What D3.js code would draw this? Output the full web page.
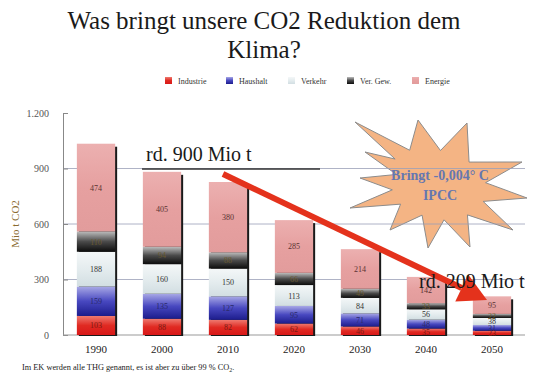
<!DOCTYPE html>
<html><head><meta charset="utf-8">
<script src="https://cdn.jsdelivr.net/npm/d3@7"></script>
<style>body{margin:0;background:#fff}svg{display:block}svg text{font-family:"Liberation Serif","Times New Roman",Times,"DejaVu Serif",serif}</style>
</head><body>
<svg id="c" width="540" height="378"></svg>
<script>
const years = ["1990","2000","2010","2020","2030","2040","2050"];
const seriesNames = ["Industrie","Haushalt","Verkehr","Ver. Gew.","Energie"];
const industrie = [103, 88, 82, 62, 46, 35, 23];
const haushalt  = [159, 135, 127, 95, 71, 48, 31];
const verkehr   = [188, 160, 150, 113, 84, 56, 38];
const verGew    = [110, 94, 88, 66, 49, 33, 22];
const energie   = [474, 405, 380, 285, 214, 142, 95];
const yTicks = [0, 300, 600, 900, 1200];
const yTickLabels = ["0","300","600","900","1.200"];

const seriesValues = [industrie, haushalt, verkehr, verGew, energie];
const rows = years.map((y,i)=>{const r={year:y}; seriesNames.forEach((s,j)=>r[s]=seriesValues[j][i]); return r;});

const svg = d3.select("#c");
const serif = '"Liberation Serif","Times New Roman",Times,"DejaVu Serif",serif';
const T = sel => sel.style("font-family", serif);

const x = d3.scaleBand().domain(years).range([63,525]).paddingInner(0.42).paddingOuter(0.21);
const y = d3.scaleLinear().domain([0,1200]).range([335,113]);

const grads = {
  "Industrie": ["#ee7a70","#e02a22","#d81818"],
  "Haushalt": ["#a8a8e6","#4848c0","#1c1c8c"],
  "Verkehr": ["#f4f7f8","#e4ecee","#d2dee2"],
  "Ver. Gew.": ["#bdbdbd","#4a4a4a","#0c0c0c"],
  "Energie": ["#ecb0b0","#e6a0a0","#e29c9c"]
};
const labelColor = {"Industrie":"#7a1a14","Haushalt":"#2a2a6a","Verkehr":"#333","Ver. Gew.":"#6b5a30","Energie":"#5a3232"};
const defs = svg.append("defs");
seriesNames.forEach((s,i)=>{
  const g = defs.append("linearGradient").attr("id","g"+i).attr("x1",0).attr("y1",0).attr("x2",0).attr("y2",1);
  grads[s].forEach((c,k)=>g.append("stop").attr("offset",(k/2*100)+"%").attr("stop-color",c));
});
const colorOf = s => "url(#g"+seriesNames.indexOf(s)+")";

// title
svg.append("text").attr("x",264).attr("y",29).attr("text-anchor","middle")
  .attr("font-size",25).attr("fill","#1a1a1a").call(T)
  .text("Was bringt unsere CO2 Reduktion dem");
svg.append("text").attr("x",264).attr("y",58).attr("text-anchor","middle")
  .attr("font-size",25).attr("fill","#1a1a1a").call(T)
  .text("Klima?");

// legend
const legX = [165,226,288,347,412];
const leg = svg.append("g");
seriesNames.forEach((s,i)=>{
  leg.append("rect").attr("x",legX[i]).attr("y",77).attr("width",7).attr("height",7).attr("fill",colorOf(s));
  leg.append("text").attr("x",legX[i]+13).attr("y",83.5).attr("font-size",8).call(T)
    .attr("fill","#333").text(s);
});

// star burst (behind gridlines)
const cx=438, cy=186;
const outer=[[-83,-64],[-20,-66],[29,-63],[84,-24],[89,12],[75,44],[32,61],[-10,62],[-48,44],[-88,22],[-78,-8],[-73,-34]];
const pts=[];
outer.forEach((p,i)=>{
  pts.push([cx+p[0],cy+p[1]]);
  const q=outer[(i+1)%outer.length];
  const ax=(p[0]+q[0])/2, ay=(p[1]+q[1])/2;
  pts.push([cx+ax*0.55,cy+ay*0.55]);
});
svg.append("polygon").attr("points",pts.map(p=>p.join(",")).join(" "))
  .attr("fill","#f4b484").attr("stroke","#8c8c8c").attr("stroke-width",1);

// gridlines
svg.append("g").selectAll("line").data(yTicks.filter(t=>t>0 && t<1200)).join("line")
  .attr("x1",63).attr("x2",525).attr("y1",d=>y(d)).attr("y2",d=>y(d))
  .attr("stroke","#9aa0b8").attr("stroke-width",0.8);
// axis
const yAxis = d3.axisLeft(y).tickValues(yTicks).tickFormat((d,i)=>yTickLabels[i]).tickSize(-5).tickPadding(14);
const ga = svg.append("g").attr("transform","translate(63,0)").call(yAxis);
ga.select(".domain").attr("stroke","#888");
ga.selectAll(".tick line").attr("stroke","#888");
ga.selectAll(".tick text").call(T).attr("font-size",10).attr("fill","#555");
svg.append("line").attr("x1",63).attr("x2",525).attr("y1",y(0)).attr("y2",y(0)).attr("stroke","#999").attr("stroke-width",1);

svg.append("text").attr("transform","translate(19,"+y(600)+") rotate(-90)").attr("text-anchor","middle")
  .call(T).attr("font-size",11).attr("fill","#8a6a30").text("Mio t CO2");

// star text
svg.append("text").attr("x",cx+2).attr("y",180).attr("text-anchor","middle").call(T)
  .attr("font-weight","bold").attr("font-size",14).attr("fill","#6677b0").text("Bringt -0,004° C");
svg.append("text").attr("x",cx+2).attr("y",200).attr("text-anchor","middle").call(T)
  .attr("font-weight","bold").attr("font-size",14).attr("fill","#6677b0").text("IPCC");

// x labels
const xAxis = d3.axisBottom(x).tickSize(0).tickPadding(10);
const gx = svg.append("g").attr("transform","translate(0,"+y(0)+")").call(xAxis);
gx.select(".domain").remove();
gx.selectAll(".tick text").call(T).attr("font-size",11).attr("fill","#222");

// bars
const stack = d3.stack().keys(seriesNames)(rows);
const totals = rows.map(r=>d3.sum(seriesNames,s=>r[s]));
svg.append("g").selectAll("rect").data(rows).join("rect")
  .attr("x",d=>x(d.year)+2).attr("y",(d,i)=>y(totals[i])+3)
  .attr("width",x.bandwidth()).attr("height",(d,i)=>y(0)-y(totals[i])-2).attr("fill","#1a1a1a");
const layers = svg.append("g").selectAll("g").data(stack).join("g").attr("fill",d=>colorOf(d.key));
layers.selectAll("rect").data(d=>d).join("rect")
  .attr("x",d=>x(d.data.year)).attr("y",d=>y(d[1])).attr("width",x.bandwidth())
  .attr("height",d=>y(d[0])-y(d[1]));
stack.forEach(layer=>{
  svg.append("g").selectAll("text").data(layer).join("text")
    .attr("x",d=>x(d.data.year)+x.bandwidth()/2).attr("y",d=>(y(d[0])+y(d[1]))/2+3)
    .attr("text-anchor","middle").call(T).attr("font-size",8)
    .attr("fill",labelColor[layer.key]).text(d=>d[1]-d[0]);
});

// annotations
svg.append("line").attr("x1",142).attr("x2",320).attr("y1",169).attr("y2",169).attr("stroke","#333").attr("stroke-width",1.5);
svg.append("text").attr("x",146).attr("y",161).call(T).attr("font-size",20).attr("fill","#1a1a1a").text("rd. 900 Mio t");

// red arrow
const a0=[223,174], a1=[487,300];
const ang=Math.atan2(a1[1]-a0[1],a1[0]-a0[0]);
const hl=28, hw=15;
const base=[a1[0]-hl*Math.cos(ang), a1[1]-hl*Math.sin(ang)];
svg.append("line").attr("x1",a0[0]).attr("y1",a0[1]).attr("x2",base[0]).attr("y2",base[1])
  .attr("stroke","#e4321c").attr("stroke-width",6);
svg.append("polygon").attr("points",[a1,[base[0]+hw*Math.sin(ang),base[1]-hw*Math.cos(ang)],[base[0]-hw*Math.sin(ang),base[1]+hw*Math.cos(ang)]].map(p=>p.join(",")).join(" "))
  .attr("fill","#e4321c");

svg.append("text").attr("x",419).attr("y",288).call(T).attr("font-size",20).attr("fill","#1a1a1a").text("rd. 209 Mio t");

// footer
const ft = svg.append("text").attr("x",22).attr("y",370).call(T).attr("font-size",8.3).attr("fill","#222");
ft.append("tspan").text("Im EK werden alle THG genannt, es ist aber zu über 99 % CO");
ft.append("tspan").attr("font-size",6).attr("dy",2).text("2");
ft.append("tspan").attr("dy",-2).text(".");
</script>
</body></html>
